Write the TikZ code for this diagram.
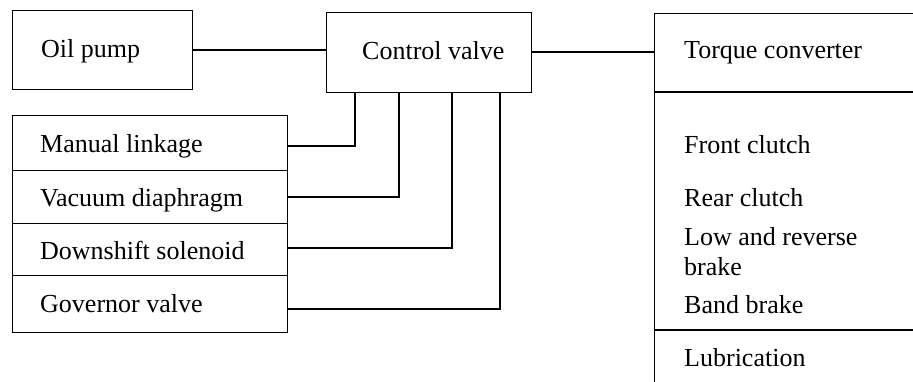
\documentclass[tikz,border=0pt]{standalone}
\usepackage{fontspec}
\setmainfont{Liberation Serif}
\usetikzlibrary{calc}
\begin{document}
\begin{tikzpicture}[x=1pt,y=-1pt,
  box/.style={draw, line width=1.2pt, inner sep=0pt, rectangle},
  lbl/.style={anchor=base west, inner sep=0pt, font=\fontsize{26}{30}\selectfont},
  conn/.style={line width=1.2pt}]
\clip (0,0) rectangle (913,382);
\fill[white] (0,0) rectangle (913,382);
% boxes
\node[box, minimum width=180pt, minimum height=79pt, anchor=north west] (oil) at (12,10) {};
\node[box, minimum width=205pt, minimum height=80pt, anchor=north west] (cv) at (326,12) {};
\node[box, minimum width=275pt, minimum height=55pt, anchor=north west] (ml) at (12,115) {};
\node[box, minimum width=275pt, minimum height=53pt, anchor=north west] (vd) at (12,170) {};
\node[box, minimum width=275pt, minimum height=52pt, anchor=north west] (ds) at (12,223) {};
\node[box, minimum width=275pt, minimum height=57pt, anchor=north west] (gv) at (12,275) {};
\node[box, minimum width=300pt, minimum height=420pt, anchor=north west] (rb) at (654,13) {};
\coordinate (d1) at (0,92);
\coordinate (d2) at (0,330);
\draw[conn] (rb.west |- d1) -- (rb.east |- d1);
\draw[conn] (rb.west |- d2) -- (rb.east |- d2);
% labels
\node[lbl] (t1) at (41,58) {Oil pump};
\node[lbl] (t2) at (362,60) {Control valve};
\node[lbl] (t3) at (40,153) {Manual linkage};
\node[lbl] (t4) at (40,207) {Vacuum diaphragm};
\node[lbl] (t5) at (40,259) {Downshift solenoid};
\node[lbl] (t6) at (40,312) {Governor valve};
\node[lbl] (t7) at (684,59) {Torque converter};
\node[lbl] (t8) at (684,154) {Front clutch};
\node[lbl] (t9) at (684,207) {Rear clutch};
\node[lbl] (t10) at (684,245) {Low and reverse};
\node[lbl] (t11) at (684,275) {brake};
\node[lbl] (t12) at (684,313) {Band brake};
\node[lbl] (t13) at (684,366) {Lubrication};
% connectors
\coordinate (y1) at (0,50);
\coordinate (y2) at (0,52);
\coordinate (c1) at (0,146);
\coordinate (c2) at (0,197);
\coordinate (c3) at (0,248);
\coordinate (c4) at (0,309);
\draw[conn] (oil.east |- y1) -- (cv.west |- y1);
\draw[conn] (cv.east |- y2) -- (rb.west |- y2);
\draw[conn] (ml.east |- c1) -| ($(cv.south west)+(29,0)$);
\draw[conn] (vd.east |- c2) -| ($(cv.south west)+(73,0)$);
\draw[conn] (ds.east |- c3) -| ($(cv.south west)+(126,0)$);
\draw[conn] (gv.east |- c4) -| ($(cv.south west)+(174,0)$);
\end{tikzpicture}
\end{document}
